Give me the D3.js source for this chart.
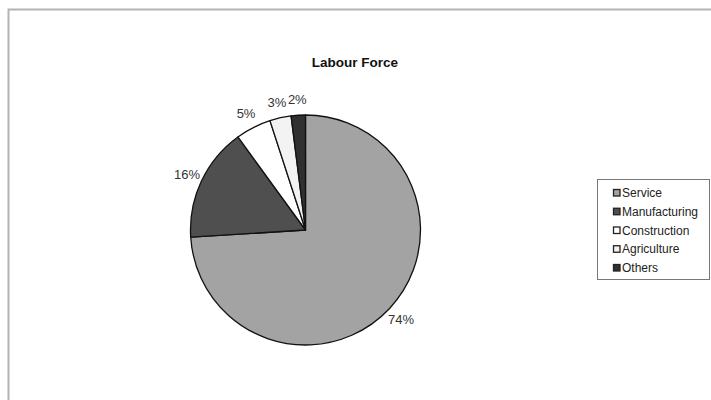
<!DOCTYPE html>
<html>
<head>
<meta charset="utf-8">
<script src="https://cdn.jsdelivr.net/npm/d3@7"></script>
<style>
body { margin: 0; background: #fff; }
text { font-family: "Liberation Sans", Arial, sans-serif; }
</style>
</head>
<body>
<div id="main"></div>
<script>
var categories = ["Service", "Manufacturing", "Construction", "Agriculture", "Others"];
var shares = [74, 16, 5, 3, 2];
var sliceColors = ["#a3a3a3", "#4f4f4f", "#ffffff", "#f3f3f3", "#303030"];
var title = "Labour Force";

var width = 711, height = 400;

var svg = d3.select("#main").append("svg")
	.attr("width", width)
	.attr("height", height);

// chart area frame
svg.append("rect")
	.attr("x", 8.5).attr("y", 9.5)
	.attr("width", 720).attr("height", 400)
	.attr("fill", "#fff")
	.attr("stroke", "#b4b4b4")
	.attr("stroke-width", 2);

svg.append("text")
	.attr("x", 355).attr("y", 67)
	.attr("text-anchor", "middle")
	.attr("font-size", "13.5px")
	.attr("font-weight", "bold")
	.attr("fill", "#111")
	.text(title);

var cx = 305.5, cy = 230, r = 115;

var pie = d3.pie().sort(null).value(function(d) { return d; });
var arcs = pie(shares);

var arc = d3.arc().innerRadius(0).outerRadius(r);
var labelArc = d3.arc().innerRadius(131).outerRadius(131);

var g = svg.append("g").attr("transform", "translate(" + cx + "," + cy + ")");

g.selectAll("path")
	.data(arcs)
	.enter().append("path")
	.attr("d", arc)
	.attr("fill", function(d, i) { return sliceColors[i]; })
	.attr("stroke", "#111")
	.attr("stroke-width", 1.3)
	.attr("stroke-linejoin", "round");

g.selectAll("text.lbl")
	.data(arcs)
	.enter().append("text")
	.attr("class", "lbl")
	.attr("transform", function(d) { return "translate(" + labelArc.centroid(d) + ")"; })
	.attr("text-anchor", "middle")
	.attr("dy", ".35em")
	.attr("font-size", "13px")
	.attr("fill", "#333")
	.text(function(d) { return d.data + "%"; });

// legend
var legend = svg.append("g");
legend.append("rect")
	.attr("x", 597.5).attr("y", 179.5)
	.attr("width", 112).attr("height", 100)
	.attr("fill", "#fff")
	.attr("stroke", "#777")
	.attr("stroke-width", 1);

var legendY = d3.scalePoint().domain(categories).range([193, 268]);

categories.forEach(function(c, i) {
	legend.append("rect")
		.attr("x", 613.5).attr("y", legendY(c) - 3.5)
		.attr("width", 6.5).attr("height", 6.5)
		.attr("fill", sliceColors[i])
		.attr("stroke", "#222")
		.attr("stroke-width", 1.3);
	legend.append("text")
		.attr("x", 622).attr("y", legendY(c))
		.attr("dy", ".35em")
		.attr("font-size", "12px")
		.attr("fill", "#222")
		.text(c);
});
</script>
</body>
</html>
